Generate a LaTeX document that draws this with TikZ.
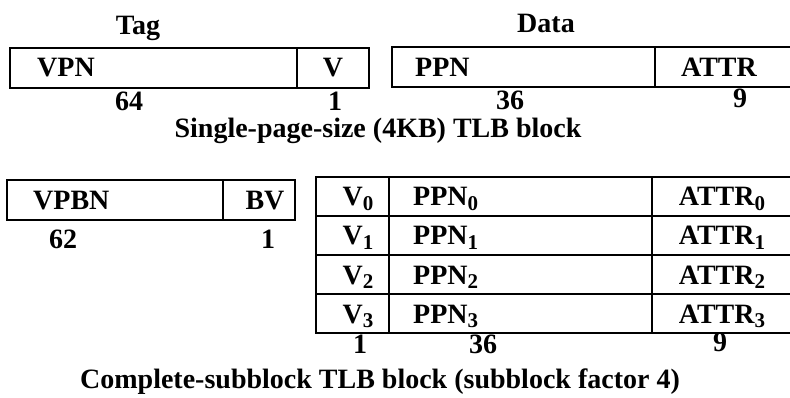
\documentclass[tikz,border=0pt]{standalone}
\usepackage{fontspec}
\setmainfont{Liberation Serif}
\newcommand\sbs[1]{\raisebox{-0.36ex}{\fontsize{21}{24}\selectfont #1}}
\begin{document}
\begin{tikzpicture}[x=1pt,y=-1pt,
  box/.style={line width=1.8pt},
  lbl/.style={font=\bfseries\fontsize{28}{32}\selectfont, inner sep=0pt,
    text height=0.68em, text depth=0.2em, anchor=base},
  lbll/.style={lbl, anchor=base west},
  num/.style={lbl, text depth=0pt}]
\fill[white] (0,0) rectangle (790,398);
\clip (0,0) rectangle (790,398);
% ---- single-page-size block
\draw[box] (10,48) rectangle (369,88);
\draw[box] (297,48) -- (297,88);
\draw[box] (392,47) rectangle (800,87);
\draw[box] (655,47) -- (655,87);
\node[lbl] (tag) at (138,35) {Tag};
\node[lbl] (data) at (546,33) {Data};
\node[lbll] (vpn) at (37,77) {VPN};
\node[lbl] (v) at (333,77) {V};
\node[lbll] (ppn) at (415,77) {PPN};
\node[lbl] (attr) at (719,77) {ATTR};
\node[num] (n64) at (129,111) {64};
\node[num] (n1a) at (335,111) {1};
\node[num] (n36a) at (510,110) {36};
\node[num] (n9a) at (740,108) {9};
\node[lbl] (cap1) at (378,138) {Single-page-size (4KB) TLB block};
% ---- complete-subblock block
\draw[box] (7,180) rectangle (295,220);
\draw[box] (223,180) -- (223,220);
\node[lbll] (vpbn) at (33,210) {VPBN};
\node[lbl] (bv) at (265,210) {BV};
\node[num] (n62) at (63,248) {62};
\node[num] (n1b) at (268,248) {1};
\draw[box] (316,177) rectangle (800,333);
\foreach \y in {216,255,294} \draw[box] (316,\y) -- (800,\y);
\draw[box] (389,177) -- (389,333);
\draw[box] (652,177) -- (652,333);
\foreach \i/\y in {0/206,1/245,2/284,3/323}{
  \node[lbl] (v\i) at (358,\y) {V\sbs{\i}};
  \node[lbll] (ppn\i) at (413,\y) {PPN\sbs{\i}};
  \node[lbl] (attr\i) at (722,\y) {ATTR\sbs{\i}};
}
\node[num] (n1c) at (360,353) {1};
\node[num] (n36c) at (483,353) {36};
\node[num] (n9c) at (720,351) {9};
\node[lbl] (cap2) at (380,388) {Complete-subblock TLB block (subblock factor 4)};
\end{tikzpicture}
\end{document}
